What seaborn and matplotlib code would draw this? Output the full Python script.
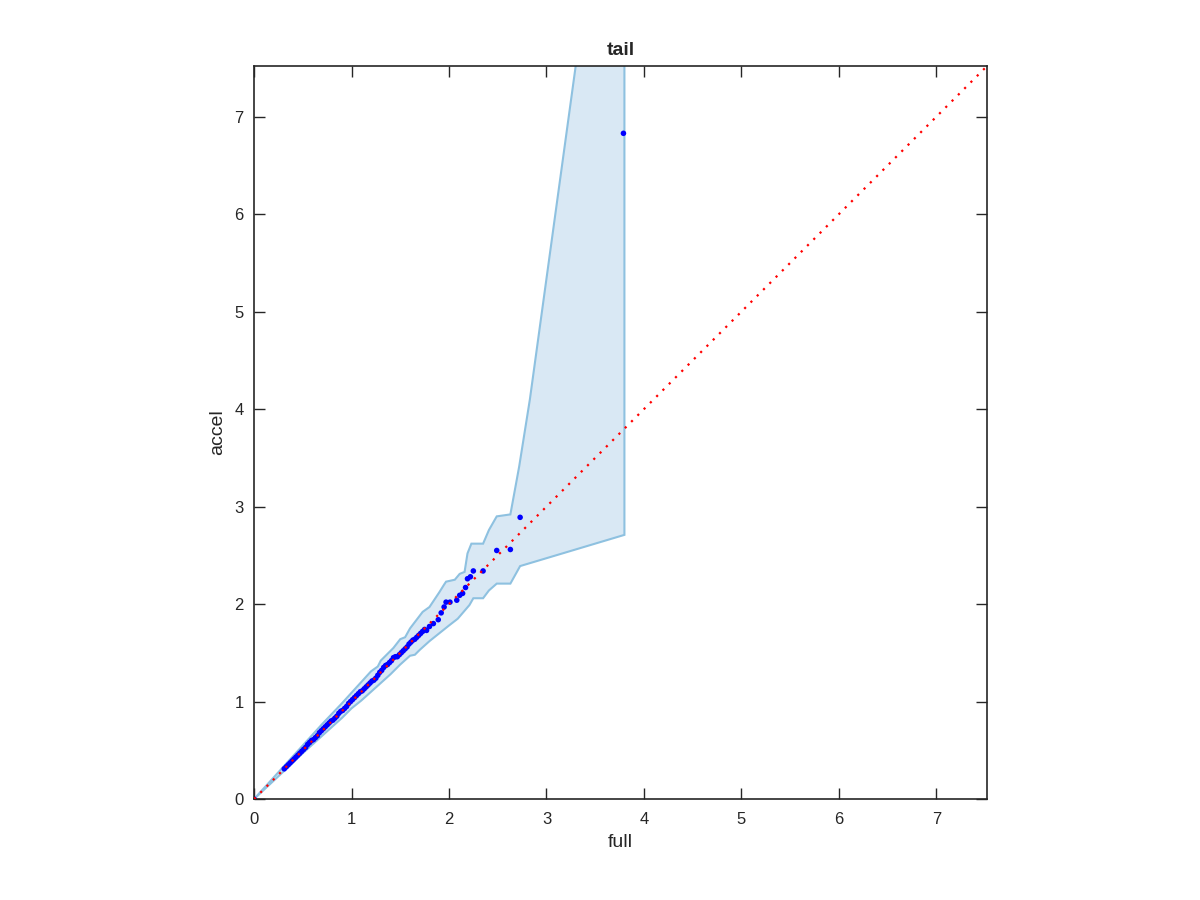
import numpy as np
import pandas as pd
import seaborn as sns
import matplotlib.pyplot as plt

# quantile pairs (full vs accel)
full = [0.0, 0.31, 0.33, 0.35, 0.37, 0.39, 0.41, 0.43, 0.45, 0.47, 0.49,
        0.51, 0.53, 0.55, 0.57, 0.59, 0.61, 0.63, 0.65, 0.67, 0.69,
        0.71, 0.73, 0.75, 0.77, 0.79, 0.81, 0.83, 0.85, 0.87, 0.89,
        0.91, 0.93, 0.95, 0.97, 0.99, 1.01, 1.03, 1.05, 1.07, 1.09,
        1.11, 1.13, 1.15, 1.17, 1.19, 1.21, 1.23, 1.25, 1.27, 1.29,
        1.31, 1.33, 1.35, 1.37, 1.39, 1.41, 1.43, 1.45, 1.47, 1.49,
        1.51, 1.53, 1.55, 1.57, 1.59, 1.61, 1.63, 1.65, 1.67, 1.69,
        1.71, 1.73, 1.75, 1.77, 1.80, 1.84, 1.89, 1.92, 1.95, 1.97,
        2.01, 2.08, 2.11, 2.14, 2.17, 2.19, 2.22, 2.25, 2.35, 2.49,
        2.63, 2.73, 3.79]
accel = [0.0, 0.31, 0.33, 0.35, 0.37, 0.39, 0.41, 0.43, 0.45, 0.47, 0.49,
         0.51, 0.53, 0.56, 0.58, 0.60, 0.61, 0.63, 0.65, 0.68, 0.70,
         0.72, 0.74, 0.76, 0.78, 0.80, 0.81, 0.83, 0.85, 0.88, 0.90,
         0.91, 0.93, 0.95, 0.98, 1.00, 1.02, 1.04, 1.06, 1.08, 1.10,
         1.11, 1.13, 1.15, 1.17, 1.19, 1.21, 1.22, 1.24, 1.27, 1.30,
         1.32, 1.35, 1.37, 1.38, 1.40, 1.42, 1.45, 1.46, 1.46, 1.48,
         1.50, 1.52, 1.54, 1.56, 1.59, 1.61, 1.63, 1.64, 1.66, 1.68,
         1.70, 1.72, 1.74, 1.73, 1.77, 1.80, 1.84, 1.91, 1.97, 2.02,
         2.02, 2.04, 2.09, 2.11, 2.17, 2.26, 2.28, 2.34, 2.34, 2.55,
         2.56, 2.89, 6.83]

# envelope
upper_x = [0.0, 0.3, 0.5, 0.7, 0.9, 1.0, 1.1, 1.2, 1.27, 1.3, 1.43, 1.5, 1.55,
           1.6, 1.73, 1.80, 1.90, 1.95, 1.97, 2.06, 2.11, 2.16, 2.19, 2.23,
           2.35, 2.41, 2.49, 2.63, 2.72, 2.83, 3.30, 3.80]
upper_y = [0.0, 0.33, 0.55, 0.77, 0.98, 1.09, 1.20, 1.31, 1.36, 1.42, 1.55, 1.64, 1.66,
           1.75, 1.92, 1.97, 2.12, 2.20, 2.23, 2.25, 2.31, 2.33, 2.52, 2.62,
           2.62, 2.76, 2.90, 2.92, 3.41, 4.10, 7.52, 11.1]
lower_x = [0.0, 0.3, 0.5, 0.7, 0.9, 1.0, 1.1, 1.2, 1.3, 1.4, 1.5, 1.6,
           1.65, 1.70, 1.8, 1.9, 2.0, 2.09, 2.21, 2.25, 2.35, 2.41, 2.49, 2.63,
           2.73, 3.80]
lower_y = [0.0, 0.28, 0.47, 0.65, 0.83, 0.93, 1.01, 1.10, 1.19, 1.28, 1.38, 1.47,
           1.48, 1.53, 1.62, 1.70, 1.78, 1.85, 1.99, 2.06, 2.06, 2.14, 2.21, 2.21,
           2.39, 2.71]

lim = 7.52

sns.set_style("ticks")
plt.rcParams['font.family'] = ['Liberation Sans', 'DejaVu Sans']

fig = plt.figure(figsize=(12, 9), dpi=100)
ax = fig.add_axes([0.2117, 0.1122, 0.6108, 0.8144])

band_x = upper_x + lower_x[::-1]
band_y = upper_y + lower_y[::-1]
ax.fill(band_x, band_y, facecolor="#d9e8f4", edgecolor="#8ec1e0", linewidth=1.5, zorder=1)

sns.lineplot(x=[0, lim], y=[0, lim], color="red", linewidth=1.6,
             dashes=False, ax=ax, zorder=3)
ax.lines[-1].set_dashes((1, 3))

df = pd.DataFrame({"full": full, "accel": accel})
sns.scatterplot(data=df, x="full", y="accel", color="blue", s=16,
                edgecolor="none", ax=ax, zorder=2)

ax.set_xlim(0, lim)
ax.set_ylim(0, lim)
ax.set_xticks(range(8))
ax.set_yticks(range(8))
ax.tick_params(direction="in", length=8, width=1, colors="#262626",
               labelsize=12, top=True, right=True)
ax.tick_params(axis="x", pad=9.5)
ax.tick_params(axis="y", pad=7.5)
for sp in ax.spines.values():
    sp.set_visible(True)
    sp.set_color("#262626")
    sp.set_linewidth(1.2)
ax.set_xlabel("full", fontsize=14, color="#262626", labelpad=5)
ax.set_ylabel("accel", fontsize=14, color="#262626", labelpad=6)
ax.set_title("tail", fontsize=14, fontweight="bold", pad=8)

fig.savefig("out.png", dpi=100)
